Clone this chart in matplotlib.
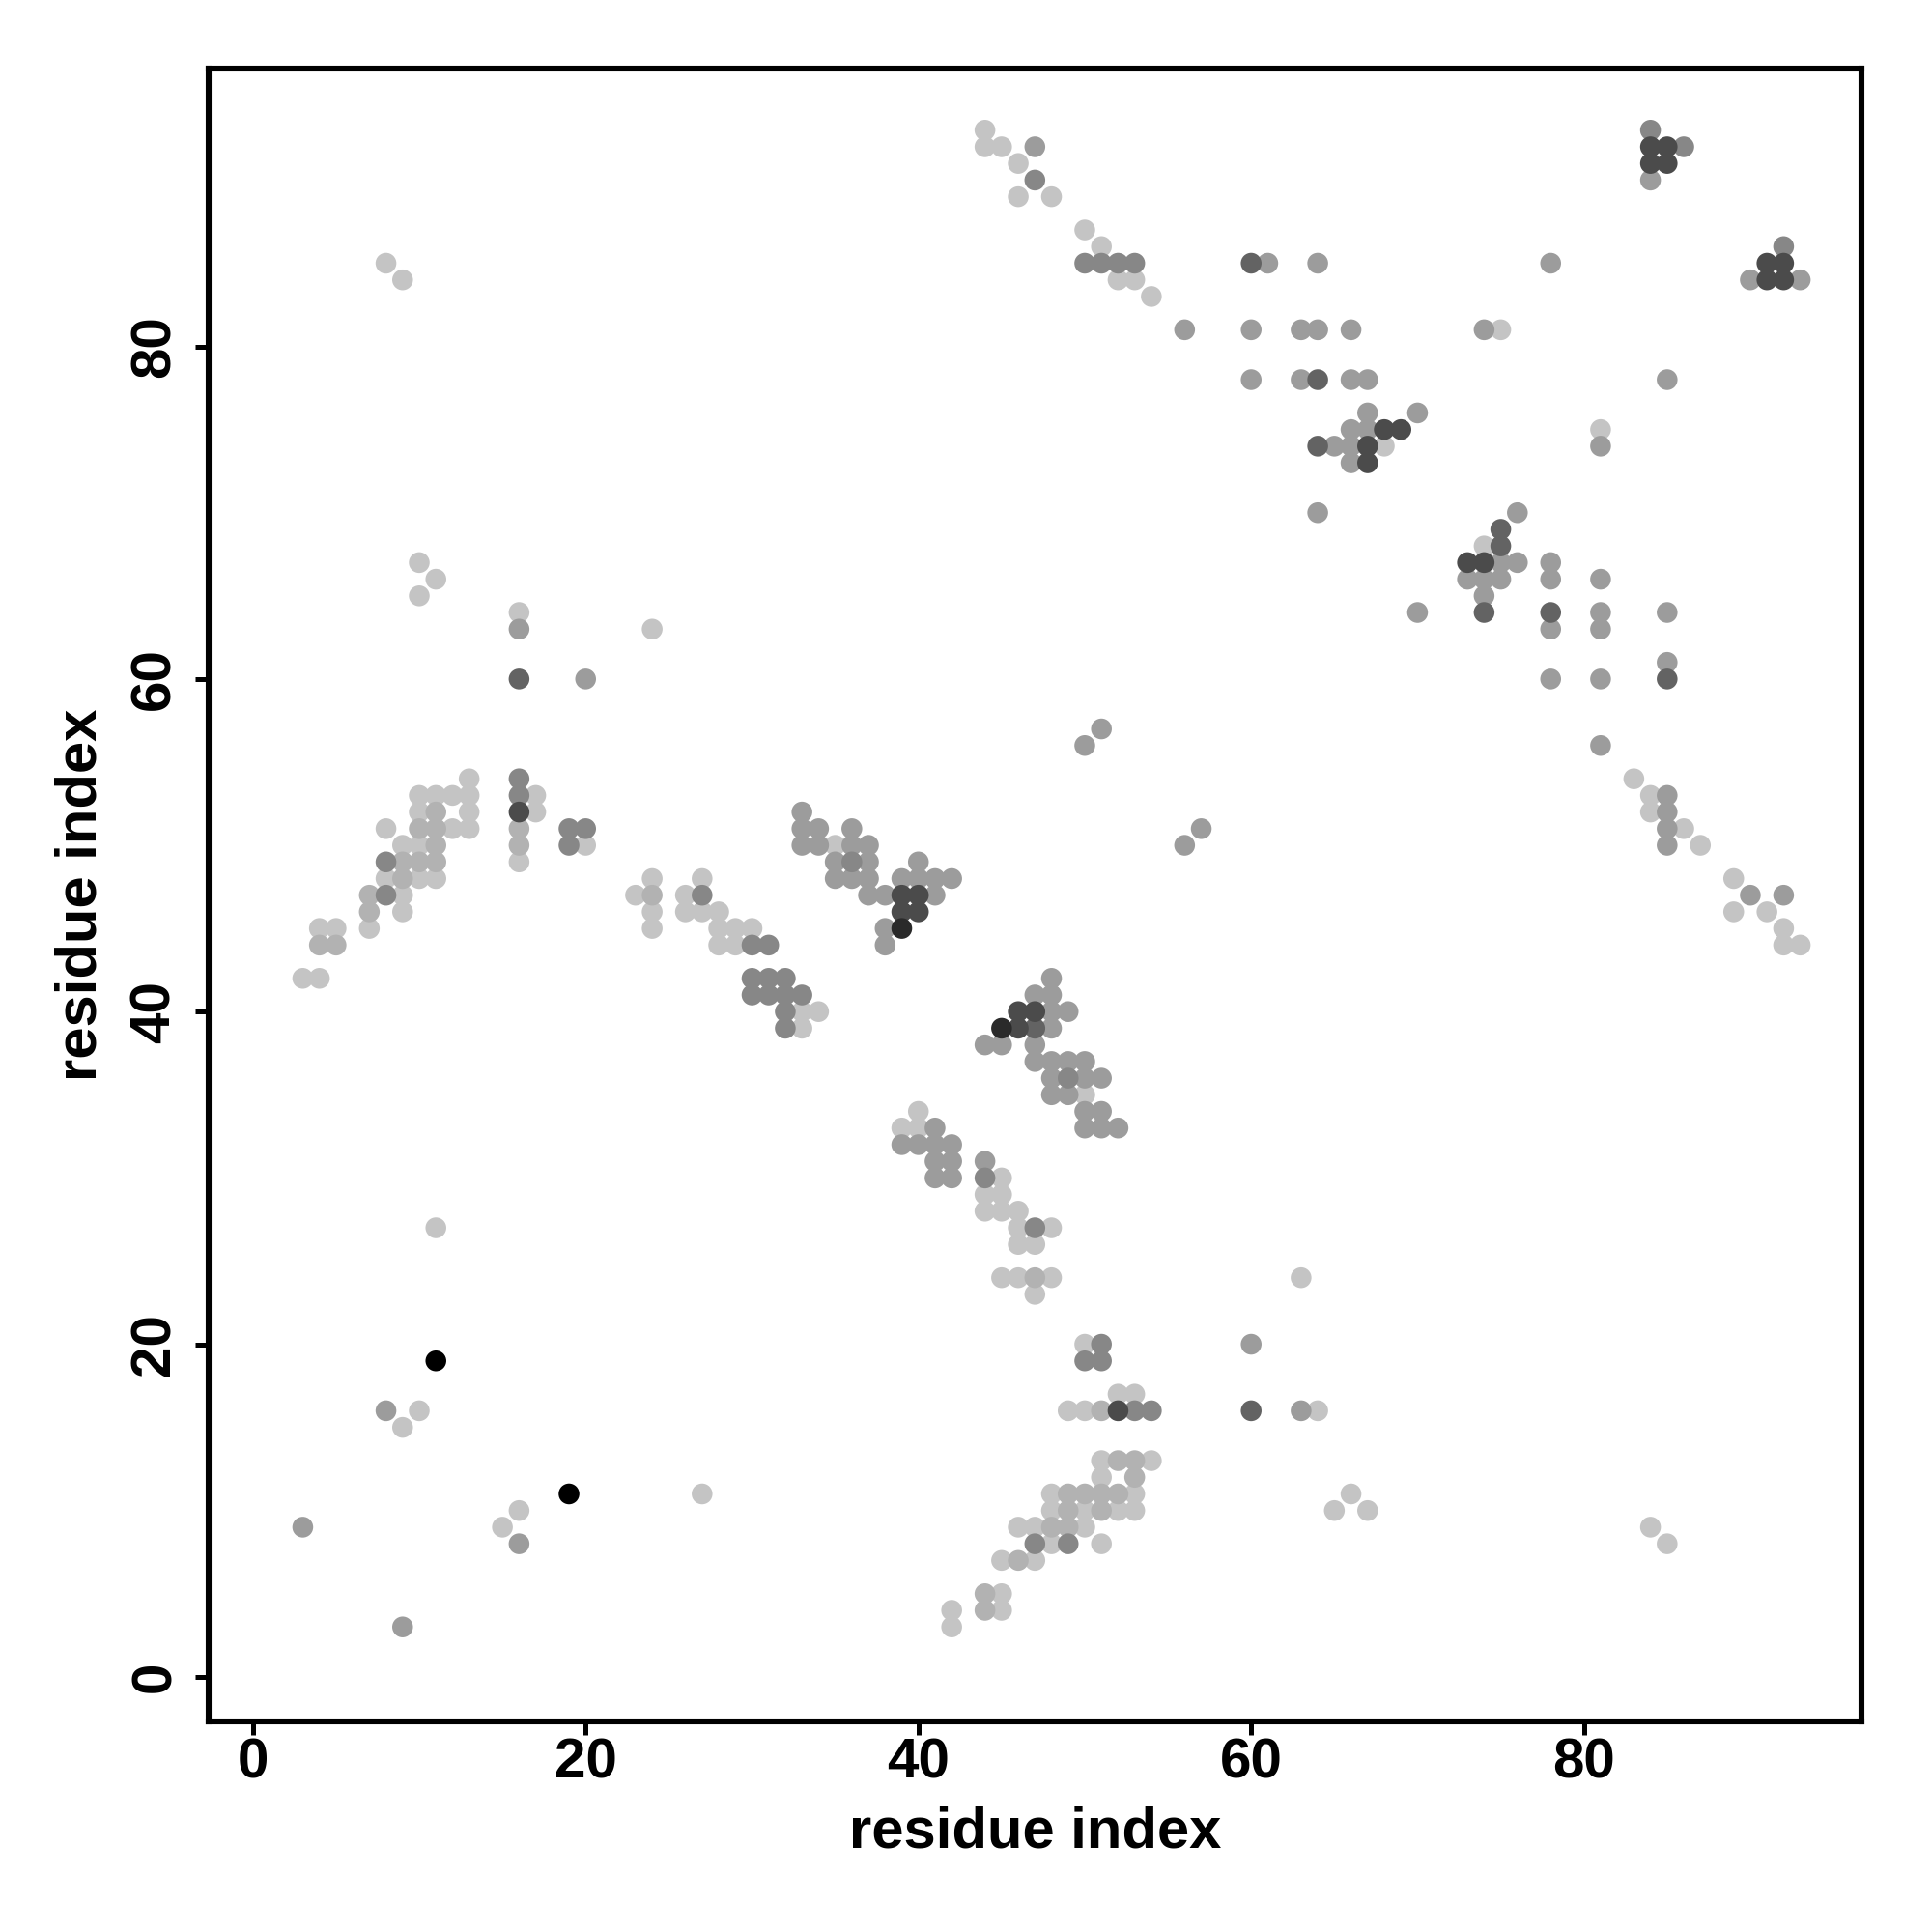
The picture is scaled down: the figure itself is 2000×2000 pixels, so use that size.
import matplotlib
matplotlib.use("Agg")
import matplotlib.pyplot as plt

# contact pairs (residue i, residue j), grouped by grey level of the dot
light = [
    (8, 85), (9, 84),
    (44, 93), (44, 92), (45, 92), (46, 91), (46, 89), (48, 89), (50, 87), (51, 86),
    (52, 84), (53, 84), (54, 83), (75, 81), (81, 75), (68, 74), (74, 68),
    (10, 67), (11, 66), (10, 65), (16, 64), (24, 63),
    (13, 54), (10, 53), (11, 53), (12, 53), (13, 53), (10, 52), (13, 52), (8, 51),
    (12, 51), (13, 51), (9, 50), (10, 50), (8, 48), (10, 48), (11, 48), (9, 47),
    (17, 53), (17, 52), (16, 49), (20, 50), (24, 48), (23, 47), (27, 48), (26, 47),
    (9, 46), (7, 45), (4, 45), (5, 45), (3, 42), (4, 42), (11, 27),
    (24, 46), (26, 46), (27, 46), (28, 46), (24, 45), (28, 45), (29, 45), (30, 45),
    (28, 44), (29, 44), (33, 40), (34, 40), (33, 39), (35, 50),
    (40, 34), (39, 33), (40, 33), (45, 30), (44, 29), (45, 29), (44, 28), (45, 28),
    (46, 28), (46, 27), (48, 27), (46, 26), (47, 26), (45, 24), (46, 24), (48, 24),
    (47, 23), (63, 24), (50, 35),
    (83, 54), (84, 53), (84, 52), (86, 51), (87, 50), (89, 48), (89, 46), (91, 46),
    (92, 45), (92, 44), (93, 44),
    (10, 16), (9, 15), (27, 11), (16, 10), (15, 9),
    (50, 20), (49, 16), (50, 16), (52, 17), (53, 17), (51, 13), (54, 13), (51, 12),
    (48, 11), (53, 11), (48, 10), (50, 10), (52, 10), (53, 10), (46, 9), (47, 9),
    (50, 9), (48, 8), (51, 8), (45, 7), (47, 7), (45, 5), (45, 4), (42, 4), (42, 3),
    (64, 16), (66, 11), (65, 10), (67, 10), (84, 9), (85, 8),
]
light_mid = [
    (11, 52), (10, 51), (11, 51), (11, 50), (9, 49), (10, 49), (11, 49), (9, 48),
    (7, 47), (16, 51), (16, 50), (24, 47), (7, 46), (4, 44), (5, 44), (47, 24),
    (51, 16), (52, 13), (53, 13), (53, 12), (49, 11), (50, 11), (51, 11), (52, 11),
    (49, 10), (51, 10), (48, 9), (49, 9), (46, 7), (44, 5), (44, 4),
]
mid = [
    (47, 92), (56, 81), (61, 85), (60, 81), (63, 81), (64, 81), (60, 78), (63, 78),
    (64, 85), (66, 81), (74, 81), (66, 78), (67, 78), (85, 78), (67, 76), (70, 76),
    (66, 75), (67, 75), (65, 74), (66, 74), (66, 73), (81, 74), (78, 85), (90, 84),
    (93, 84), (84, 90),
    (16, 63), (20, 60), (64, 70), (76, 70), (75, 67), (76, 67), (73, 66), (74, 66),
    (75, 66), (74, 65), (70, 64), (78, 67), (78, 66), (81, 66), (78, 63), (81, 64),
    (81, 63), (85, 64), (85, 61), (78, 60), (81, 60), (81, 56), (85, 53), (85, 52),
    (85, 51), (85, 50), (90, 47), (92, 47),
    (51, 57), (50, 56), (57, 51), (56, 50),
    (33, 52), (33, 51), (34, 51), (36, 51), (33, 50), (34, 50), (36, 50), (37, 50),
    (35, 49), (37, 49), (40, 49), (35, 48), (36, 48), (37, 48), (39, 48), (40, 48),
    (41, 48), (42, 48), (37, 47), (38, 47), (41, 47),
    (38, 45), (38, 44), (48, 42), (47, 41), (48, 41), (48, 40), (49, 40), (48, 39),
    (44, 38), (45, 38), (47, 38), (47, 37), (48, 37), (49, 37), (50, 37), (48, 36),
    (50, 36), (51, 36), (48, 35), (49, 35), (50, 34), (51, 34), (50, 33), (51, 33),
    (52, 33),
    (41, 33), (39, 32), (40, 32), (41, 32), (42, 32), (41, 31), (42, 31), (41, 30),
    (42, 30), (44, 31),
    (8, 16), (3, 9), (9, 3), (16, 8), (60, 20), (63, 16),
]
mid_dark = [
    (47, 90), (50, 85), (51, 85), (52, 85), (53, 85), (84, 93), (86, 92), (92, 86),
    (8, 49), (8, 47), (16, 54), (16, 53), (19, 51), (20, 51), (19, 50), (27, 47),
    (30, 44), (31, 44), (30, 42), (31, 42), (32, 42), (30, 41), (31, 41), (32, 41),
    (33, 41), (32, 40), (32, 39), (36, 49), (49, 36), (44, 30), (47, 27),
    (51, 20), (50, 19), (51, 19), (53, 16), (54, 16), (47, 8), (49, 8),
]
dark = [
    (60, 85), (64, 74), (64, 78), (16, 60), (85, 60), (78, 64), (74, 64), (75, 69),
    (75, 68), (60, 16), (47, 39),
]
darker = [
    (84, 92), (85, 92), (84, 91), (85, 91), (91, 85), (92, 85), (91, 84), (92, 84),
    (68, 75), (69, 75), (67, 74), (67, 73), (73, 67), (74, 67), (16, 52),
    (39, 47), (40, 47), (39, 46), (40, 46), (46, 40), (47, 40), (46, 39), (52, 16),
]
near_black = [(39, 45), (45, 39)]
black = [(11, 19), (19, 11)]

groups = [
    (light, "#c4c4c4"),
    (light_mid, "#b2b2b2"),
    (mid, "#9c9c9c"),
    (mid_dark, "#878787"),
    (dark, "#636363"),
    (darker, "#4b4b4b"),
    (near_black, "#2a2a2a"),
    (black, "#000000"),
]

plt.rcParams["font.family"] = ["Liberation Sans", "DejaVu Sans"]
plt.rcParams["font.weight"] = "bold"

fig = plt.figure(figsize=(10, 10), dpi=200, facecolor="white")
ax = fig.add_axes((0.1078, 0.109, 0.8557, 0.8553))

for pts, col in groups:
    xs = [p[0] for p in pts]
    ys = [p[1] for p in pts]
    ax.scatter(xs, ys, s=60, color=col, edgecolors="none", zorder=2)

ax.set_xlim(-2.68, 96.68)
ax.set_ylim(-2.68, 96.68)
ax.set_xticks([0, 20, 40, 60, 80])
ax.set_yticks([0, 20, 40, 60, 80])
for spine in ax.spines.values():
    spine.set_linewidth(2.2)
ax.tick_params(axis="both", length=5, width=1.8, labelsize=21)
ax.tick_params(axis="x", pad=1)
ax.tick_params(axis="y", pad=5)
for lab in ax.get_yticklabels():
    lab.set_rotation(90)
    lab.set_va("center")
for lab in ax.get_xticklabels() + ax.get_yticklabels():
    lab.set_fontweight("bold")

ax.set_xlabel("residue index", fontsize=21.5, fontweight="bold", labelpad=6)
ax.set_ylabel("residue index", fontsize=21.5, fontweight="bold", labelpad=8)

fig.savefig("out.png", dpi=200, facecolor="white")
